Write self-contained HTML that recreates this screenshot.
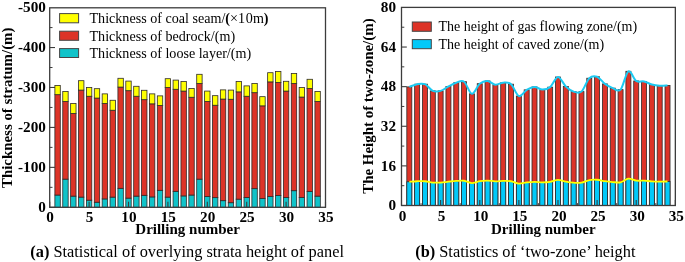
<!DOCTYPE html>
<html><head><meta charset="utf-8"><style>
html,body{margin:0;padding:0;background:#fff;}
body{width:685px;height:262px;overflow:hidden;}
svg{display:block;font-family:'Liberation Serif', serif;will-change:transform;}
</style></head><body>
<svg width="685" height="262" viewBox="0 0 685 262">
<rect width="685" height="262" fill="#fff"/>
<rect x="54.88" y="195.04" width="5.4" height="12.26" fill="#10c3c9" stroke="#2e2a2a" stroke-width="0.8"/>
<rect x="54.88" y="94.67" width="5.4" height="100.37" fill="#dd3327" stroke="#2e2a2a" stroke-width="0.8"/>
<rect x="54.88" y="85.48" width="5.4" height="9.19" fill="#ffff00" stroke="#2e2a2a" stroke-width="0.8"/>
<rect x="62.76" y="179.14" width="5.4" height="28.16" fill="#10c3c9" stroke="#2e2a2a" stroke-width="0.8"/>
<rect x="62.76" y="101.46" width="5.4" height="77.68" fill="#dd3327" stroke="#2e2a2a" stroke-width="0.8"/>
<rect x="62.76" y="91.47" width="5.4" height="9.98" fill="#ffff00" stroke="#2e2a2a" stroke-width="0.8"/>
<rect x="70.64" y="196.12" width="5.4" height="11.18" fill="#10c3c9" stroke="#2e2a2a" stroke-width="0.8"/>
<rect x="70.64" y="113.44" width="5.4" height="82.68" fill="#dd3327" stroke="#2e2a2a" stroke-width="0.8"/>
<rect x="70.64" y="103.46" width="5.4" height="9.98" fill="#ffff00" stroke="#2e2a2a" stroke-width="0.8"/>
<rect x="78.52" y="197.12" width="5.4" height="10.18" fill="#10c3c9" stroke="#2e2a2a" stroke-width="0.8"/>
<rect x="78.52" y="90.08" width="5.4" height="107.04" fill="#dd3327" stroke="#2e2a2a" stroke-width="0.8"/>
<rect x="78.52" y="80.69" width="5.4" height="9.39" fill="#ffff00" stroke="#2e2a2a" stroke-width="0.8"/>
<rect x="86.4" y="200.19" width="5.4" height="7.11" fill="#10c3c9" stroke="#2e2a2a" stroke-width="0.8"/>
<rect x="86.4" y="96.27" width="5.4" height="103.92" fill="#dd3327" stroke="#2e2a2a" stroke-width="0.8"/>
<rect x="86.4" y="87.48" width="5.4" height="8.79" fill="#ffff00" stroke="#2e2a2a" stroke-width="0.8"/>
<rect x="94.28" y="202.23" width="5.4" height="5.07" fill="#10c3c9" stroke="#2e2a2a" stroke-width="0.8"/>
<rect x="94.28" y="98.06" width="5.4" height="104.16" fill="#dd3327" stroke="#2e2a2a" stroke-width="0.8"/>
<rect x="94.28" y="88.68" width="5.4" height="9.39" fill="#ffff00" stroke="#2e2a2a" stroke-width="0.8"/>
<rect x="102.16" y="198.91" width="5.4" height="8.39" fill="#10c3c9" stroke="#2e2a2a" stroke-width="0.8"/>
<rect x="102.16" y="103.46" width="5.4" height="95.46" fill="#dd3327" stroke="#2e2a2a" stroke-width="0.8"/>
<rect x="102.16" y="93.87" width="5.4" height="9.59" fill="#ffff00" stroke="#2e2a2a" stroke-width="0.8"/>
<rect x="110.04" y="197.12" width="5.4" height="10.18" fill="#10c3c9" stroke="#2e2a2a" stroke-width="0.8"/>
<rect x="110.04" y="110.25" width="5.4" height="86.87" fill="#dd3327" stroke="#2e2a2a" stroke-width="0.8"/>
<rect x="110.04" y="100.26" width="5.4" height="9.98" fill="#ffff00" stroke="#2e2a2a" stroke-width="0.8"/>
<rect x="117.92" y="188.33" width="5.4" height="18.97" fill="#10c3c9" stroke="#2e2a2a" stroke-width="0.8"/>
<rect x="117.92" y="87.08" width="5.4" height="101.25" fill="#dd3327" stroke="#2e2a2a" stroke-width="0.8"/>
<rect x="117.92" y="78.29" width="5.4" height="8.79" fill="#ffff00" stroke="#2e2a2a" stroke-width="0.8"/>
<rect x="125.8" y="198.11" width="5.4" height="9.19" fill="#10c3c9" stroke="#2e2a2a" stroke-width="0.8"/>
<rect x="125.8" y="90.68" width="5.4" height="107.44" fill="#dd3327" stroke="#2e2a2a" stroke-width="0.8"/>
<rect x="125.8" y="81.09" width="5.4" height="9.59" fill="#ffff00" stroke="#2e2a2a" stroke-width="0.8"/>
<rect x="133.68" y="196.12" width="5.4" height="11.18" fill="#10c3c9" stroke="#2e2a2a" stroke-width="0.8"/>
<rect x="133.68" y="96.27" width="5.4" height="99.85" fill="#dd3327" stroke="#2e2a2a" stroke-width="0.8"/>
<rect x="133.68" y="86.28" width="5.4" height="9.98" fill="#ffff00" stroke="#2e2a2a" stroke-width="0.8"/>
<rect x="141.56" y="195.32" width="5.4" height="11.98" fill="#10c3c9" stroke="#2e2a2a" stroke-width="0.8"/>
<rect x="141.56" y="99.66" width="5.4" height="95.66" fill="#dd3327" stroke="#2e2a2a" stroke-width="0.8"/>
<rect x="141.56" y="90.28" width="5.4" height="9.39" fill="#ffff00" stroke="#2e2a2a" stroke-width="0.8"/>
<rect x="149.44" y="196.92" width="5.4" height="10.38" fill="#10c3c9" stroke="#2e2a2a" stroke-width="0.8"/>
<rect x="149.44" y="103.86" width="5.4" height="93.06" fill="#dd3327" stroke="#2e2a2a" stroke-width="0.8"/>
<rect x="149.44" y="93.87" width="5.4" height="9.98" fill="#ffff00" stroke="#2e2a2a" stroke-width="0.8"/>
<rect x="157.32" y="190.33" width="5.4" height="16.97" fill="#10c3c9" stroke="#2e2a2a" stroke-width="0.8"/>
<rect x="157.32" y="105.45" width="5.4" height="84.87" fill="#dd3327" stroke="#2e2a2a" stroke-width="0.8"/>
<rect x="157.32" y="95.87" width="5.4" height="9.59" fill="#ffff00" stroke="#2e2a2a" stroke-width="0.8"/>
<rect x="165.2" y="197.12" width="5.4" height="10.18" fill="#10c3c9" stroke="#2e2a2a" stroke-width="0.8"/>
<rect x="165.2" y="87.48" width="5.4" height="109.64" fill="#dd3327" stroke="#2e2a2a" stroke-width="0.8"/>
<rect x="165.2" y="78.69" width="5.4" height="8.79" fill="#ffff00" stroke="#2e2a2a" stroke-width="0.8"/>
<rect x="173.08" y="191.32" width="5.4" height="15.98" fill="#10c3c9" stroke="#2e2a2a" stroke-width="0.8"/>
<rect x="173.08" y="89.28" width="5.4" height="102.05" fill="#dd3327" stroke="#2e2a2a" stroke-width="0.8"/>
<rect x="173.08" y="80.09" width="5.4" height="9.19" fill="#ffff00" stroke="#2e2a2a" stroke-width="0.8"/>
<rect x="180.96" y="195.92" width="5.4" height="11.38" fill="#10c3c9" stroke="#2e2a2a" stroke-width="0.8"/>
<rect x="180.96" y="91.07" width="5.4" height="104.84" fill="#dd3327" stroke="#2e2a2a" stroke-width="0.8"/>
<rect x="180.96" y="81.49" width="5.4" height="9.59" fill="#ffff00" stroke="#2e2a2a" stroke-width="0.8"/>
<rect x="188.84" y="195.04" width="5.4" height="12.26" fill="#10c3c9" stroke="#2e2a2a" stroke-width="0.8"/>
<rect x="188.84" y="97.27" width="5.4" height="97.77" fill="#dd3327" stroke="#2e2a2a" stroke-width="0.8"/>
<rect x="188.84" y="88.48" width="5.4" height="8.79" fill="#ffff00" stroke="#2e2a2a" stroke-width="0.8"/>
<rect x="196.72" y="179.14" width="5.4" height="28.16" fill="#10c3c9" stroke="#2e2a2a" stroke-width="0.8"/>
<rect x="196.72" y="83.49" width="5.4" height="95.66" fill="#dd3327" stroke="#2e2a2a" stroke-width="0.8"/>
<rect x="196.72" y="74.3" width="5.4" height="9.19" fill="#ffff00" stroke="#2e2a2a" stroke-width="0.8"/>
<rect x="204.6" y="196.56" width="5.4" height="10.74" fill="#10c3c9" stroke="#2e2a2a" stroke-width="0.8"/>
<rect x="204.6" y="101.46" width="5.4" height="95.1" fill="#dd3327" stroke="#2e2a2a" stroke-width="0.8"/>
<rect x="204.6" y="91.07" width="5.4" height="10.38" fill="#ffff00" stroke="#2e2a2a" stroke-width="0.8"/>
<rect x="212.48" y="197.63" width="5.4" height="9.67" fill="#10c3c9" stroke="#2e2a2a" stroke-width="0.8"/>
<rect x="212.48" y="105.25" width="5.4" height="92.38" fill="#dd3327" stroke="#2e2a2a" stroke-width="0.8"/>
<rect x="212.48" y="95.67" width="5.4" height="9.59" fill="#ffff00" stroke="#2e2a2a" stroke-width="0.8"/>
<rect x="220.36" y="200.67" width="5.4" height="6.63" fill="#10c3c9" stroke="#2e2a2a" stroke-width="0.8"/>
<rect x="220.36" y="99.06" width="5.4" height="101.61" fill="#dd3327" stroke="#2e2a2a" stroke-width="0.8"/>
<rect x="220.36" y="89.88" width="5.4" height="9.19" fill="#ffff00" stroke="#2e2a2a" stroke-width="0.8"/>
<rect x="228.24" y="202.71" width="5.4" height="4.59" fill="#10c3c9" stroke="#2e2a2a" stroke-width="0.8"/>
<rect x="228.24" y="99.26" width="5.4" height="103.44" fill="#dd3327" stroke="#2e2a2a" stroke-width="0.8"/>
<rect x="228.24" y="90.08" width="5.4" height="9.19" fill="#ffff00" stroke="#2e2a2a" stroke-width="0.8"/>
<rect x="236.12" y="199.15" width="5.4" height="8.15" fill="#10c3c9" stroke="#2e2a2a" stroke-width="0.8"/>
<rect x="236.12" y="91.87" width="5.4" height="107.28" fill="#dd3327" stroke="#2e2a2a" stroke-width="0.8"/>
<rect x="236.12" y="81.49" width="5.4" height="10.38" fill="#ffff00" stroke="#2e2a2a" stroke-width="0.8"/>
<rect x="244" y="197.51" width="5.4" height="9.79" fill="#10c3c9" stroke="#2e2a2a" stroke-width="0.8"/>
<rect x="244" y="96.27" width="5.4" height="101.25" fill="#dd3327" stroke="#2e2a2a" stroke-width="0.8"/>
<rect x="244" y="85.88" width="5.4" height="10.38" fill="#ffff00" stroke="#2e2a2a" stroke-width="0.8"/>
<rect x="251.88" y="188.65" width="5.4" height="18.65" fill="#10c3c9" stroke="#2e2a2a" stroke-width="0.8"/>
<rect x="251.88" y="92.67" width="5.4" height="95.98" fill="#dd3327" stroke="#2e2a2a" stroke-width="0.8"/>
<rect x="251.88" y="83.49" width="5.4" height="9.19" fill="#ffff00" stroke="#2e2a2a" stroke-width="0.8"/>
<rect x="259.76" y="198.51" width="5.4" height="8.79" fill="#10c3c9" stroke="#2e2a2a" stroke-width="0.8"/>
<rect x="259.76" y="105.85" width="5.4" height="92.66" fill="#dd3327" stroke="#2e2a2a" stroke-width="0.8"/>
<rect x="259.76" y="96.67" width="5.4" height="9.19" fill="#ffff00" stroke="#2e2a2a" stroke-width="0.8"/>
<rect x="267.64" y="196.52" width="5.4" height="10.78" fill="#10c3c9" stroke="#2e2a2a" stroke-width="0.8"/>
<rect x="267.64" y="81.89" width="5.4" height="114.63" fill="#dd3327" stroke="#2e2a2a" stroke-width="0.8"/>
<rect x="267.64" y="72.7" width="5.4" height="9.19" fill="#ffff00" stroke="#2e2a2a" stroke-width="0.8"/>
<rect x="275.52" y="195.52" width="5.4" height="11.78" fill="#10c3c9" stroke="#2e2a2a" stroke-width="0.8"/>
<rect x="275.52" y="82.49" width="5.4" height="113.03" fill="#dd3327" stroke="#2e2a2a" stroke-width="0.8"/>
<rect x="275.52" y="71.5" width="5.4" height="10.98" fill="#ffff00" stroke="#2e2a2a" stroke-width="0.8"/>
<rect x="283.4" y="197.51" width="5.4" height="9.79" fill="#10c3c9" stroke="#2e2a2a" stroke-width="0.8"/>
<rect x="283.4" y="91.07" width="5.4" height="106.44" fill="#dd3327" stroke="#2e2a2a" stroke-width="0.8"/>
<rect x="283.4" y="81.29" width="5.4" height="9.79" fill="#ffff00" stroke="#2e2a2a" stroke-width="0.8"/>
<rect x="291.28" y="190.68" width="5.4" height="16.62" fill="#10c3c9" stroke="#2e2a2a" stroke-width="0.8"/>
<rect x="291.28" y="83.49" width="5.4" height="107.2" fill="#dd3327" stroke="#2e2a2a" stroke-width="0.8"/>
<rect x="291.28" y="73.5" width="5.4" height="9.98" fill="#ffff00" stroke="#2e2a2a" stroke-width="0.8"/>
<rect x="299.16" y="197.51" width="5.4" height="9.79" fill="#10c3c9" stroke="#2e2a2a" stroke-width="0.8"/>
<rect x="299.16" y="97.07" width="5.4" height="100.45" fill="#dd3327" stroke="#2e2a2a" stroke-width="0.8"/>
<rect x="299.16" y="87.48" width="5.4" height="9.59" fill="#ffff00" stroke="#2e2a2a" stroke-width="0.8"/>
<rect x="307.04" y="191.44" width="5.4" height="15.86" fill="#10c3c9" stroke="#2e2a2a" stroke-width="0.8"/>
<rect x="307.04" y="88.48" width="5.4" height="102.97" fill="#dd3327" stroke="#2e2a2a" stroke-width="0.8"/>
<rect x="307.04" y="79.29" width="5.4" height="9.19" fill="#ffff00" stroke="#2e2a2a" stroke-width="0.8"/>
<rect x="314.92" y="196.12" width="5.4" height="11.18" fill="#10c3c9" stroke="#2e2a2a" stroke-width="0.8"/>
<rect x="314.92" y="101.46" width="5.4" height="94.66" fill="#dd3327" stroke="#2e2a2a" stroke-width="0.8"/>
<rect x="314.92" y="91.47" width="5.4" height="9.98" fill="#ffff00" stroke="#2e2a2a" stroke-width="0.8"/>
<rect x="406.82" y="86.9" width="5" height="118.6" fill="#dd3327" stroke="#2e2a2a" stroke-width="0.8"/>
<rect x="406.82" y="181.78" width="5" height="23.72" fill="#02c9f9" stroke="#2e2a2a" stroke-width="0.8"/>
<rect x="414.65" y="84.18" width="5" height="121.32" fill="#dd3327" stroke="#2e2a2a" stroke-width="0.8"/>
<rect x="414.65" y="181.24" width="5" height="24.26" fill="#02c9f9" stroke="#2e2a2a" stroke-width="0.8"/>
<rect x="422.47" y="84.18" width="5" height="121.32" fill="#dd3327" stroke="#2e2a2a" stroke-width="0.8"/>
<rect x="422.47" y="181.24" width="5" height="24.26" fill="#02c9f9" stroke="#2e2a2a" stroke-width="0.8"/>
<rect x="430.3" y="90.86" width="5" height="114.64" fill="#dd3327" stroke="#2e2a2a" stroke-width="0.8"/>
<rect x="430.3" y="182.57" width="5" height="22.93" fill="#02c9f9" stroke="#2e2a2a" stroke-width="0.8"/>
<rect x="438.12" y="90.86" width="5" height="114.64" fill="#dd3327" stroke="#2e2a2a" stroke-width="0.8"/>
<rect x="438.12" y="182.57" width="5" height="22.93" fill="#02c9f9" stroke="#2e2a2a" stroke-width="0.8"/>
<rect x="445.94" y="86.4" width="5" height="119.1" fill="#dd3327" stroke="#2e2a2a" stroke-width="0.8"/>
<rect x="445.94" y="181.68" width="5" height="23.82" fill="#02c9f9" stroke="#2e2a2a" stroke-width="0.8"/>
<rect x="453.77" y="82.69" width="5" height="122.81" fill="#dd3327" stroke="#2e2a2a" stroke-width="0.8"/>
<rect x="453.77" y="180.94" width="5" height="24.56" fill="#02c9f9" stroke="#2e2a2a" stroke-width="0.8"/>
<rect x="461.59" y="81.7" width="5" height="123.8" fill="#dd3327" stroke="#2e2a2a" stroke-width="0.8"/>
<rect x="461.59" y="180.74" width="5" height="24.76" fill="#02c9f9" stroke="#2e2a2a" stroke-width="0.8"/>
<rect x="469.42" y="93.83" width="5" height="111.67" fill="#dd3327" stroke="#2e2a2a" stroke-width="0.8"/>
<rect x="469.42" y="183.17" width="5" height="22.33" fill="#02c9f9" stroke="#2e2a2a" stroke-width="0.8"/>
<rect x="477.24" y="83.68" width="5" height="121.82" fill="#dd3327" stroke="#2e2a2a" stroke-width="0.8"/>
<rect x="477.24" y="181.14" width="5" height="24.36" fill="#02c9f9" stroke="#2e2a2a" stroke-width="0.8"/>
<rect x="485.06" y="80.96" width="5" height="124.54" fill="#dd3327" stroke="#2e2a2a" stroke-width="0.8"/>
<rect x="485.06" y="180.59" width="5" height="24.91" fill="#02c9f9" stroke="#2e2a2a" stroke-width="0.8"/>
<rect x="492.89" y="84.67" width="5" height="120.83" fill="#dd3327" stroke="#2e2a2a" stroke-width="0.8"/>
<rect x="492.89" y="181.33" width="5" height="24.17" fill="#02c9f9" stroke="#2e2a2a" stroke-width="0.8"/>
<rect x="500.71" y="82.69" width="5" height="122.81" fill="#dd3327" stroke="#2e2a2a" stroke-width="0.8"/>
<rect x="500.71" y="180.94" width="5" height="24.56" fill="#02c9f9" stroke="#2e2a2a" stroke-width="0.8"/>
<rect x="508.54" y="84.18" width="5" height="121.32" fill="#dd3327" stroke="#2e2a2a" stroke-width="0.8"/>
<rect x="508.54" y="181.24" width="5" height="24.26" fill="#02c9f9" stroke="#2e2a2a" stroke-width="0.8"/>
<rect x="516.36" y="96.06" width="5" height="109.44" fill="#dd3327" stroke="#2e2a2a" stroke-width="0.8"/>
<rect x="516.36" y="183.61" width="5" height="21.89" fill="#02c9f9" stroke="#2e2a2a" stroke-width="0.8"/>
<rect x="524.18" y="89.87" width="5" height="115.63" fill="#dd3327" stroke="#2e2a2a" stroke-width="0.8"/>
<rect x="524.18" y="182.37" width="5" height="23.13" fill="#02c9f9" stroke="#2e2a2a" stroke-width="0.8"/>
<rect x="532.01" y="86.9" width="5" height="118.6" fill="#dd3327" stroke="#2e2a2a" stroke-width="0.8"/>
<rect x="532.01" y="181.78" width="5" height="23.72" fill="#02c9f9" stroke="#2e2a2a" stroke-width="0.8"/>
<rect x="539.83" y="89.62" width="5" height="115.88" fill="#dd3327" stroke="#2e2a2a" stroke-width="0.8"/>
<rect x="539.83" y="182.32" width="5" height="23.18" fill="#02c9f9" stroke="#2e2a2a" stroke-width="0.8"/>
<rect x="547.66" y="87.15" width="5" height="118.35" fill="#dd3327" stroke="#2e2a2a" stroke-width="0.8"/>
<rect x="547.66" y="181.83" width="5" height="23.67" fill="#02c9f9" stroke="#2e2a2a" stroke-width="0.8"/>
<rect x="555.48" y="77" width="5" height="128.5" fill="#dd3327" stroke="#2e2a2a" stroke-width="0.8"/>
<rect x="555.48" y="179.8" width="5" height="25.7" fill="#02c9f9" stroke="#2e2a2a" stroke-width="0.8"/>
<rect x="563.3" y="86.4" width="5" height="119.1" fill="#dd3327" stroke="#2e2a2a" stroke-width="0.8"/>
<rect x="563.3" y="181.68" width="5" height="23.82" fill="#02c9f9" stroke="#2e2a2a" stroke-width="0.8"/>
<rect x="571.13" y="91.6" width="5" height="113.9" fill="#dd3327" stroke="#2e2a2a" stroke-width="0.8"/>
<rect x="571.13" y="182.72" width="5" height="22.78" fill="#02c9f9" stroke="#2e2a2a" stroke-width="0.8"/>
<rect x="578.95" y="91.6" width="5" height="113.9" fill="#dd3327" stroke="#2e2a2a" stroke-width="0.8"/>
<rect x="578.95" y="182.72" width="5" height="22.78" fill="#02c9f9" stroke="#2e2a2a" stroke-width="0.8"/>
<rect x="586.78" y="78.23" width="5" height="127.27" fill="#dd3327" stroke="#2e2a2a" stroke-width="0.8"/>
<rect x="586.78" y="180.05" width="5" height="25.45" fill="#02c9f9" stroke="#2e2a2a" stroke-width="0.8"/>
<rect x="594.6" y="76.75" width="5" height="128.75" fill="#dd3327" stroke="#2e2a2a" stroke-width="0.8"/>
<rect x="594.6" y="179.75" width="5" height="25.75" fill="#02c9f9" stroke="#2e2a2a" stroke-width="0.8"/>
<rect x="602.42" y="83.93" width="5" height="121.57" fill="#dd3327" stroke="#2e2a2a" stroke-width="0.8"/>
<rect x="602.42" y="181.19" width="5" height="24.31" fill="#02c9f9" stroke="#2e2a2a" stroke-width="0.8"/>
<rect x="610.25" y="88.14" width="5" height="117.36" fill="#dd3327" stroke="#2e2a2a" stroke-width="0.8"/>
<rect x="610.25" y="182.03" width="5" height="23.47" fill="#02c9f9" stroke="#2e2a2a" stroke-width="0.8"/>
<rect x="618.07" y="89.62" width="5" height="115.88" fill="#dd3327" stroke="#2e2a2a" stroke-width="0.8"/>
<rect x="618.07" y="182.32" width="5" height="23.18" fill="#02c9f9" stroke="#2e2a2a" stroke-width="0.8"/>
<rect x="625.9" y="71.3" width="5" height="134.2" fill="#dd3327" stroke="#2e2a2a" stroke-width="0.8"/>
<rect x="625.9" y="178.66" width="5" height="26.84" fill="#02c9f9" stroke="#2e2a2a" stroke-width="0.8"/>
<rect x="633.72" y="80.96" width="5" height="124.54" fill="#dd3327" stroke="#2e2a2a" stroke-width="0.8"/>
<rect x="633.72" y="180.59" width="5" height="24.91" fill="#02c9f9" stroke="#2e2a2a" stroke-width="0.8"/>
<rect x="641.54" y="81.45" width="5" height="124.05" fill="#dd3327" stroke="#2e2a2a" stroke-width="0.8"/>
<rect x="641.54" y="180.69" width="5" height="24.81" fill="#02c9f9" stroke="#2e2a2a" stroke-width="0.8"/>
<rect x="649.37" y="84.42" width="5" height="121.08" fill="#dd3327" stroke="#2e2a2a" stroke-width="0.8"/>
<rect x="649.37" y="181.28" width="5" height="24.22" fill="#02c9f9" stroke="#2e2a2a" stroke-width="0.8"/>
<rect x="657.19" y="85.66" width="5" height="119.84" fill="#dd3327" stroke="#2e2a2a" stroke-width="0.8"/>
<rect x="657.19" y="181.53" width="5" height="23.97" fill="#02c9f9" stroke="#2e2a2a" stroke-width="0.8"/>
<rect x="665.02" y="85.41" width="5" height="120.09" fill="#dd3327" stroke="#2e2a2a" stroke-width="0.8"/>
<rect x="665.02" y="181.48" width="5" height="24.02" fill="#02c9f9" stroke="#2e2a2a" stroke-width="0.8"/>
<path d="M409.32,86.9 C410.63,86.45 414.54,84.63 417.15,84.18 C419.76,83.72 422.36,83.06 424.97,84.18 C427.58,85.29 430.19,89.75 432.8,90.86 C435.4,91.98 438.01,91.6 440.62,90.86 C443.23,90.12 445.84,87.77 448.44,86.4 C451.05,85.04 453.66,83.47 456.27,82.69 C458.88,81.91 461.48,79.84 464.09,81.7 C466.7,83.56 469.31,93.5 471.92,93.83 C474.52,94.16 477.13,85.83 479.74,83.68 C482.35,81.53 484.96,80.79 487.56,80.96 C490.17,81.12 492.78,84.38 495.39,84.67 C498,84.96 500.6,82.77 503.21,82.69 C505.82,82.61 508.43,81.95 511.04,84.18 C513.64,86.4 516.25,95.11 518.86,96.06 C521.47,97.01 524.08,91.4 526.68,89.87 C529.29,88.34 531.9,86.94 534.51,86.9 C537.12,86.86 539.72,89.58 542.33,89.62 C544.94,89.66 547.55,89.25 550.16,87.15 C552.76,85.04 555.37,77.12 557.98,77 C560.59,76.87 563.2,83.97 565.8,86.4 C568.41,88.84 571.02,90.74 573.63,91.6 C576.24,92.47 578.84,93.83 581.45,91.6 C584.06,89.38 586.67,80.71 589.28,78.23 C591.88,75.76 594.49,75.8 597.1,76.75 C599.71,77.7 602.32,82.03 604.92,83.93 C607.53,85.83 610.14,87.19 612.75,88.14 C615.36,89.09 617.96,92.43 620.57,89.62 C623.18,86.82 625.79,72.75 628.4,71.3 C631,69.86 633.61,79.27 636.22,80.96 C638.83,82.65 641.44,80.87 644.04,81.45 C646.65,82.03 649.26,83.72 651.87,84.42 C654.48,85.13 657.08,85.5 659.69,85.66 C662.3,85.83 666.21,85.46 667.52,85.41" fill="none" stroke="#1ccaf2" stroke-width="2"/>
<path d="M409.32,181.78 C410.63,181.69 414.54,181.33 417.15,181.24 C419.76,181.14 422.36,181.01 424.97,181.24 C427.58,181.46 430.19,182.35 432.8,182.57 C435.4,182.8 438.01,182.72 440.62,182.57 C443.23,182.42 445.84,181.95 448.44,181.68 C451.05,181.41 453.66,181.09 456.27,180.94 C458.88,180.78 461.48,180.37 464.09,180.74 C466.7,181.11 469.31,183.1 471.92,183.17 C474.52,183.23 477.13,181.57 479.74,181.14 C482.35,180.71 484.96,180.56 487.56,180.59 C490.17,180.62 492.78,181.28 495.39,181.33 C498,181.39 500.6,180.95 503.21,180.94 C505.82,180.92 508.43,180.79 511.04,181.24 C513.64,181.68 516.25,183.42 518.86,183.61 C521.47,183.8 524.08,182.68 526.68,182.37 C529.29,182.07 531.9,181.79 534.51,181.78 C537.12,181.77 539.72,182.32 542.33,182.32 C544.94,182.33 547.55,182.25 550.16,181.83 C552.76,181.41 555.37,179.82 557.98,179.8 C560.59,179.77 563.2,181.19 565.8,181.68 C568.41,182.17 571.02,182.55 573.63,182.72 C576.24,182.89 578.84,183.17 581.45,182.72 C584.06,182.28 586.67,180.54 589.28,180.05 C591.88,179.55 594.49,179.56 597.1,179.75 C599.71,179.94 602.32,180.81 604.92,181.19 C607.53,181.57 610.14,181.84 612.75,182.03 C615.36,182.22 617.96,182.89 620.57,182.32 C623.18,181.76 625.79,178.95 628.4,178.66 C631,178.37 633.61,180.25 636.22,180.59 C638.83,180.93 641.44,180.57 644.04,180.69 C646.65,180.81 649.26,181.14 651.87,181.28 C654.48,181.43 657.08,181.5 659.69,181.53 C662.3,181.57 666.21,181.49 667.52,181.48" fill="none" stroke="#ffff00" stroke-width="1.8"/>
<rect x="49.7" y="7.8" width="275.8" height="199.5" fill="none" stroke="#3c3c3c" stroke-width="1.3"/>
<line x1="49.7" y1="207.3" x2="55" y2="207.3" stroke="#3c3c3c" stroke-width="1.1"/>
<line x1="49.7" y1="167.36" x2="55" y2="167.36" stroke="#3c3c3c" stroke-width="1.1"/>
<line x1="49.7" y1="127.42" x2="55" y2="127.42" stroke="#3c3c3c" stroke-width="1.1"/>
<line x1="49.7" y1="87.48" x2="55" y2="87.48" stroke="#3c3c3c" stroke-width="1.1"/>
<line x1="49.7" y1="47.54" x2="55" y2="47.54" stroke="#3c3c3c" stroke-width="1.1"/>
<line x1="49.7" y1="187.33" x2="52.5" y2="187.33" stroke="#3c3c3c" stroke-width="1"/>
<line x1="49.7" y1="147.39" x2="52.5" y2="147.39" stroke="#3c3c3c" stroke-width="1"/>
<line x1="49.7" y1="107.45" x2="52.5" y2="107.45" stroke="#3c3c3c" stroke-width="1"/>
<line x1="49.7" y1="67.51" x2="52.5" y2="67.51" stroke="#3c3c3c" stroke-width="1"/>
<line x1="49.7" y1="27.57" x2="52.5" y2="27.57" stroke="#3c3c3c" stroke-width="1"/>
<line x1="49.7" y1="207.3" x2="49.7" y2="201.7" stroke="#3c3c3c" stroke-width="1.1"/>
<line x1="89.1" y1="207.3" x2="89.1" y2="201.7" stroke="#3c3c3c" stroke-width="1.1"/>
<line x1="128.5" y1="207.3" x2="128.5" y2="201.7" stroke="#3c3c3c" stroke-width="1.1"/>
<line x1="167.9" y1="207.3" x2="167.9" y2="201.7" stroke="#3c3c3c" stroke-width="1.1"/>
<line x1="207.3" y1="207.3" x2="207.3" y2="201.7" stroke="#3c3c3c" stroke-width="1.1"/>
<line x1="246.7" y1="207.3" x2="246.7" y2="201.7" stroke="#3c3c3c" stroke-width="1.1"/>
<line x1="286.1" y1="207.3" x2="286.1" y2="201.7" stroke="#3c3c3c" stroke-width="1.1"/>
<line x1="325.5" y1="207.3" x2="325.5" y2="201.7" stroke="#3c3c3c" stroke-width="1.1"/>
<rect x="401.5" y="7.4" width="273.84" height="198.1" fill="none" stroke="#3c3c3c" stroke-width="1.3"/>
<line x1="401.5" y1="205.5" x2="406.8" y2="205.5" stroke="#3c3c3c" stroke-width="1.1"/>
<line x1="401.5" y1="165.88" x2="406.8" y2="165.88" stroke="#3c3c3c" stroke-width="1.1"/>
<line x1="401.5" y1="126.27" x2="406.8" y2="126.27" stroke="#3c3c3c" stroke-width="1.1"/>
<line x1="401.5" y1="86.65" x2="406.8" y2="86.65" stroke="#3c3c3c" stroke-width="1.1"/>
<line x1="401.5" y1="47.04" x2="406.8" y2="47.04" stroke="#3c3c3c" stroke-width="1.1"/>
<line x1="401.5" y1="185.69" x2="404.3" y2="185.69" stroke="#3c3c3c" stroke-width="1"/>
<line x1="401.5" y1="146.08" x2="404.3" y2="146.08" stroke="#3c3c3c" stroke-width="1"/>
<line x1="401.5" y1="106.46" x2="404.3" y2="106.46" stroke="#3c3c3c" stroke-width="1"/>
<line x1="401.5" y1="66.84" x2="404.3" y2="66.84" stroke="#3c3c3c" stroke-width="1"/>
<line x1="401.5" y1="27.23" x2="404.3" y2="27.23" stroke="#3c3c3c" stroke-width="1"/>
<line x1="401.5" y1="205.5" x2="401.5" y2="199.9" stroke="#3c3c3c" stroke-width="1.1"/>
<line x1="440.62" y1="205.5" x2="440.62" y2="199.9" stroke="#3c3c3c" stroke-width="1.1"/>
<line x1="479.74" y1="205.5" x2="479.74" y2="199.9" stroke="#3c3c3c" stroke-width="1.1"/>
<line x1="518.86" y1="205.5" x2="518.86" y2="199.9" stroke="#3c3c3c" stroke-width="1.1"/>
<line x1="557.98" y1="205.5" x2="557.98" y2="199.9" stroke="#3c3c3c" stroke-width="1.1"/>
<line x1="597.1" y1="205.5" x2="597.1" y2="199.9" stroke="#3c3c3c" stroke-width="1.1"/>
<line x1="636.22" y1="205.5" x2="636.22" y2="199.9" stroke="#3c3c3c" stroke-width="1.1"/>
<line x1="675.34" y1="205.5" x2="675.34" y2="199.9" stroke="#3c3c3c" stroke-width="1.1"/>
<line x1="421.06" y1="205.5" x2="421.06" y2="203.1" stroke="#333" stroke-width="0.9"/>
<line x1="460.18" y1="205.5" x2="460.18" y2="203.1" stroke="#333" stroke-width="0.9"/>
<line x1="499.3" y1="205.5" x2="499.3" y2="203.1" stroke="#333" stroke-width="0.9"/>
<line x1="538.42" y1="205.5" x2="538.42" y2="203.1" stroke="#333" stroke-width="0.9"/>
<line x1="577.54" y1="205.5" x2="577.54" y2="203.1" stroke="#333" stroke-width="0.9"/>
<line x1="616.66" y1="205.5" x2="616.66" y2="203.1" stroke="#333" stroke-width="0.9"/>
<line x1="655.78" y1="205.5" x2="655.78" y2="203.1" stroke="#333" stroke-width="0.9"/>
<text x="45.9" y="212.1" text-anchor="end" font-weight="bold" font-size="15.2">0</text>
<text x="45.9" y="172.16" text-anchor="end" font-weight="bold" font-size="15.2">-100</text>
<text x="45.9" y="132.22" text-anchor="end" font-weight="bold" font-size="15.2">-200</text>
<text x="45.9" y="92.28" text-anchor="end" font-weight="bold" font-size="15.2">-300</text>
<text x="45.9" y="52.34" text-anchor="end" font-weight="bold" font-size="15.2">-400</text>
<text x="45.9" y="12.4" text-anchor="end" font-weight="bold" font-size="15.2">-500</text>
<text x="396" y="210.3" text-anchor="end" font-weight="bold" font-size="15.2">0</text>
<text x="396" y="170.68" text-anchor="end" font-weight="bold" font-size="15.2">16</text>
<text x="396" y="131.07" text-anchor="end" font-weight="bold" font-size="15.2">32</text>
<text x="396" y="91.45" text-anchor="end" font-weight="bold" font-size="15.2">48</text>
<text x="396" y="51.84" text-anchor="end" font-weight="bold" font-size="15.2">64</text>
<text x="396" y="12.22" text-anchor="end" font-weight="bold" font-size="15.2">80</text>
<text x="50.1" y="222" text-anchor="middle" font-weight="bold" font-size="15.2">0</text>
<text x="402.5" y="221.2" text-anchor="middle" font-weight="bold" font-size="15.2">0</text>
<text x="89.5" y="222" text-anchor="middle" font-weight="bold" font-size="15.2">5</text>
<text x="441.62" y="221.2" text-anchor="middle" font-weight="bold" font-size="15.2">5</text>
<text x="128.9" y="222" text-anchor="middle" font-weight="bold" font-size="15.2">10</text>
<text x="480.74" y="221.2" text-anchor="middle" font-weight="bold" font-size="15.2">10</text>
<text x="168.3" y="222" text-anchor="middle" font-weight="bold" font-size="15.2">15</text>
<text x="519.86" y="221.2" text-anchor="middle" font-weight="bold" font-size="15.2">15</text>
<text x="207.7" y="222" text-anchor="middle" font-weight="bold" font-size="15.2">20</text>
<text x="558.98" y="221.2" text-anchor="middle" font-weight="bold" font-size="15.2">20</text>
<text x="247.1" y="222" text-anchor="middle" font-weight="bold" font-size="15.2">25</text>
<text x="598.1" y="221.2" text-anchor="middle" font-weight="bold" font-size="15.2">25</text>
<text x="286.5" y="222" text-anchor="middle" font-weight="bold" font-size="15.2">30</text>
<text x="637.22" y="221.2" text-anchor="middle" font-weight="bold" font-size="15.2">30</text>
<text x="325.9" y="222" text-anchor="middle" font-weight="bold" font-size="15.2">35</text>
<text x="676.34" y="221.2" text-anchor="middle" font-weight="bold" font-size="15.2">35</text>
<text x="187.6" y="233.7" text-anchor="middle" font-weight="bold" font-size="15">Drilling number</text>
<text x="543.3" y="233.5" text-anchor="middle" font-weight="bold" font-size="15">Drilling number</text>
<text transform="translate(11.95,107.8) rotate(-90)" text-anchor="middle" font-weight="bold" font-size="14.9">Thickness of stratum/(m)</text>
<text transform="translate(373.0,106.1) rotate(-90)" text-anchor="middle" font-weight="bold" font-size="14.95">The Height of two-zone/(m)</text>
<rect x="59.6" y="13.6" width="19" height="9.2" fill="#ffff00" stroke="#454545" stroke-width="1"/>
<rect x="59.6" y="31.2" width="19" height="9.1" fill="#dd3327" stroke="#454545" stroke-width="1"/>
<rect x="59.6" y="48.6" width="19" height="8.9" fill="#10c3c9" stroke="#454545" stroke-width="1"/>
<text x="89.5" y="23.3" font-size="14.1">Thickness of coal seam/<tspan font-weight="bold">(</tspan>×<tspan letter-spacing="0.8">1</tspan>0m<tspan font-weight="bold">)</tspan></text>
<text x="89.5" y="40.8" font-size="14.1">Thickness of bedrock/(m)</text>
<text x="89.5" y="58.1" font-size="14.1">Thickness of loose layer/(m)</text>
<rect x="412.3" y="22" width="19" height="9.3" fill="#dd3327" stroke="#454545" stroke-width="1"/>
<rect x="412.3" y="39.6" width="19" height="9.1" fill="#02c9f9" stroke="#454545" stroke-width="1"/>
<text x="438.5" y="31.3" font-size="14">The height of gas flowing zone/(m)</text>
<text x="438.5" y="48.8" font-size="14">The height of caved zone/(m)</text>
<text x="30.3" y="257.4" font-size="16.35"><tspan font-weight="bold">(a)</tspan> Statistical of overlying strata height of panel</text>
<text x="415.2" y="257.4" font-size="16.35"><tspan font-weight="bold">(b)</tspan> Statistics of ‘two-zone’ height</text>
</svg>
</body></html>
